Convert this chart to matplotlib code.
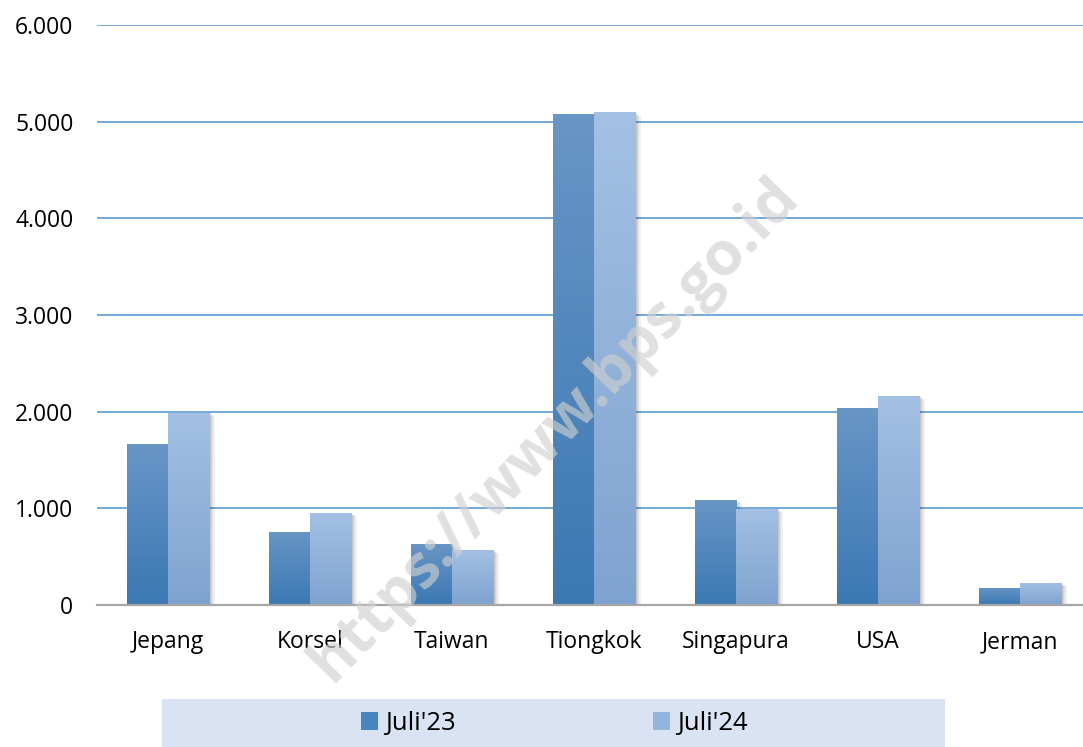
import numpy as np
import matplotlib
matplotlib.use("Agg")
import matplotlib.pyplot as plt
from matplotlib.patches import Rectangle, Patch
from matplotlib import patheffects as pe
from matplotlib.colors import LinearSegmentedColormap

categories = ["Jepang", "Korsel", "Taiwan", "Tiongkok", "Singapura", "USA", "Jerman"]
series_names = ["Juli'23", "Juli'24"]
juli23 = [1668, 757, 632, 5078, 1088, 2041, 176]
juli24 = [1990, 953, 570, 5098, 998, 2166, 228]
yticks = [0, 1000, 2000, 3000, 4000, 5000, 6000]
ytick_labels = ["0", "1.000", "2.000", "3.000", "4.000", "5.000", "6.000"]

FONT = ["Open Sans", "DejaVu Sans"]
plt.rcParams['font.family'] = FONT

W, H = 1083, 747
fig = plt.figure(figsize=(W / 100, H / 100), dpi=100)
ax = fig.add_axes([97 / W, 142 / H, 986 / W, 580 / H])

x = np.arange(len(categories))
bw = 0.29
grads = [("#6896C5", "#3B78B3"), ("#A4C0E4", "#7FA3D0")]
vals = [juli23, juli24]
shadow = [pe.SimplePatchShadow(offset=(o, -o * 0.6), shadow_rgbFace="#000000", alpha=0.06)
          for o in (1, 2, 3, 4)] + [pe.Normal()]
for i, (vs, (ctop, cbot)) in enumerate(zip(vals, grads)):
    pos = x - bw / 2 + i * bw
    bars = ax.bar(pos, vs, width=bw, color=cbot, edgecolor="none", zorder=3,
                  path_effects=shadow)
    cmap = LinearSegmentedColormap.from_list("g%d" % i, [cbot, ctop])
    grad = np.linspace(0, 1, 256).reshape(-1, 1)
    for b in bars:
        x0, y0 = b.get_x(), b.get_y()
        w, h = b.get_width(), b.get_height()
        im = ax.imshow(grad, cmap=cmap, origin="lower", aspect="auto",
                       extent=[x0, x0 + w, y0, y0 + h], zorder=4)
        im.set_clip_path(b)

ax.set_xlim(-0.5, -0.5 + 986 / 142)
ax.set_ylim(0, 6000)
ax.set_yticks(yticks)
ax.set_yticklabels(ytick_labels)
ax.set_xticks(x)
ax.set_xticklabels(categories)
ax.tick_params(axis="y", length=0, pad=17, labelsize=16.5, labelcolor="#000000")
ax.tick_params(axis="x", length=0, pad=18, labelsize=16.5, labelcolor="#000000")
for s in ["top", "right", "left"]:
    ax.spines[s].set_visible(False)
ax.spines["bottom"].set_color("#A6A6A6")
ax.spines["bottom"].set_linewidth(1.6)
ax.spines["bottom"].set_zorder(5)
ax.yaxis.grid(True, color="#5B9BD5", linewidth=1.2, zorder=0)
ax.set_axisbelow(True)

# legend background
fig.patches.append(Rectangle((162 / W, 0), (945 - 162) / W, 48 / H,
                             transform=fig.transFigure, facecolor="#DAE3F3",
                             edgecolor="none", zorder=0))
handles = [Patch(facecolor="#4A84BE", edgecolor="none"), Patch(facecolor="#93B4DD", edgecolor="none")]
fig.legend(handles, series_names, loc="center left", bbox_to_anchor=(361 / W, 1 - 723.5 / H),
           ncol=2, frameon=False, fontsize=18.5, handlelength=0.66, handleheight=0.66,
           handletextpad=0.27, columnspacing=7.7, borderpad=0, borderaxespad=0)

fig.text(555 / W, 1 - 430 / H, "https://www.bps.go.id", rotation=46, ha="center", va="center",
         fontsize=44, fontweight="bold", color="#D0D0D0", alpha=0.65,
         family=["Open Sans", "DejaVu Sans"], zorder=10)

fig.savefig("out.png", dpi=100)
